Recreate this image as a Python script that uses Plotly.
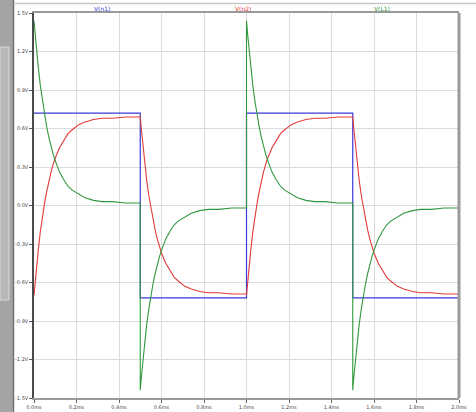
import plotly.graph_objects as go

# ---- data ----
# time offsets (ms) within one half period
t_half = [0, 0.005, 0.01, 0.015, 0.02, 0.03, 0.04, 0.05, 0.06, 0.07, 0.08, 0.09,
          0.10, 0.12, 0.14, 0.16, 0.18, 0.21, 0.24, 0.28, 0.32, 0.37, 0.43, 0.50]
half_starts = [0.0, 0.5, 1.0, 1.5]

# V(n1): square wave (edges at 0.5, 1.0, 1.5 ms)
n1_t = [0.0, 0.5, 0.5, 1.0, 1.0, 1.5, 1.5, 2.0]
n1_v = [0.72, 0.72, -0.72, -0.72, 0.72, 0.72, -0.72, -0.72]

# V(n2): rising and falling halves
n2_rise = [-0.70, -0.60, -0.51, -0.42, -0.35, -0.20, -0.08, 0.02, 0.11, 0.19, 0.26, 0.32,
           0.37, 0.45, 0.51, 0.56, 0.59, 0.63, 0.65, 0.67, 0.68, 0.68, 0.69, 0.69]
n2_fall = [0.69, 0.60, 0.51, 0.42, 0.35, 0.20, 0.08, -0.02, -0.11, -0.19, -0.26, -0.32,
           -0.37, -0.45, -0.51, -0.56, -0.59, -0.63, -0.65, -0.67, -0.68, -0.68, -0.69, -0.69]

# V(L1): rising and falling halves
l1_rise = [1.44, 1.34, 1.25, 1.16, 1.08, 0.93, 0.81, 0.70, 0.61, 0.53, 0.46, 0.40,
           0.35, 0.26, 0.20, 0.15, 0.12, 0.09, 0.06, 0.04, 0.03, 0.03, 0.02, 0.02]
l1_fall = [-1.44, -1.34, -1.25, -1.16, -1.08, -0.93, -0.81, -0.70, -0.61, -0.53, -0.46, -0.40,
           -0.35, -0.26, -0.20, -0.15, -0.12, -0.09, -0.06, -0.04, -0.03, -0.03, -0.02, -0.02]

x_ticks = [0, 0.2, 0.4, 0.6, 0.8, 1.0, 1.2, 1.4, 1.6, 1.8, 2.0]
x_labels = ["0.0ms", "0.2ms", "0.4ms", "0.6ms", "0.8ms", "1.0ms",
            "1.2ms", "1.4ms", "1.6ms", "1.8ms", "2.0ms"]
y_ticks = [1.5, 1.2, 0.9, 0.6, 0.3, 0.0, -0.3, -0.6, -0.9, -1.2, -1.5]
y_labels = ["1.5V", "1.2V", "0.9V", "0.6V", "0.3V", "0.0V",
            "-0.3V", "-0.6V", "-0.9V", "-1.2V", "-1.5V"]

names = ["V(n1)", "V(n2)", "V(L1)"]
colors = ["#3a3ad6", "#e23c38", "#30983c"]

# ---- build series over the two periods ----
n2_t, n2_v, l1_t, l1_v = [], [], [], []
for i, s in enumerate(half_starts):
    r = n2_rise if i % 2 == 0 else n2_fall
    g = l1_rise if i % 2 == 0 else l1_fall
    n2_t += [s + d for d in t_half]
    n2_v += r
    l1_t += [s + d for d in t_half]
    l1_v += g

fig = go.Figure()
fig.add_trace(go.Scatter(x=n1_t, y=n1_v, mode="lines", name=names[0],
                         line=dict(color=colors[0], width=1.2)))
fig.add_trace(go.Scatter(x=n2_t, y=n2_v, mode="lines", name=names[1],
                         line=dict(color=colors[1], width=1.1)))
fig.add_trace(go.Scatter(x=l1_t, y=l1_v, mode="lines", name=names[2],
                         line=dict(color=colors[2], width=1.1)))

W, H = 476, 412
L, R, T, B = 34, 17, 13, 14
pw, ph = W - L - R, H - T - B

def px(x):
    return (x - L) / pw

def py(y):
    return (H - B - y) / ph

shapes = [
    # left gray window strip
    dict(type="rect", xref="paper", yref="paper", x0=px(0), x1=px(13), y0=py(412), y1=py(0),
         fillcolor="#a4a4a4", line=dict(width=0), layer="below"),
    dict(type="rect", xref="paper", yref="paper", x0=px(0), x1=px(9), y0=py(300), y1=py(47),
         fillcolor="#b8b8b8", line=dict(color="#d8d8d8", width=1), layer="below"),
    dict(type="line", xref="paper", yref="paper", x0=px(13.5), x1=px(13.5), y0=py(412), y1=py(0),
         line=dict(color="#707070", width=1.5)),
    # thin top line of the title bar
    dict(type="line", xref="paper", yref="paper", x0=px(15), x1=px(476), y0=py(3.5), y1=py(3.5),
         line=dict(color="#c8c8c8", width=1.5)),
    # right frame
    dict(type="line", xref="paper", yref="paper", x0=1.0, x1=1.0, y0=0, y1=1,
         line=dict(color="#9a9a9a", width=3)),
]

annotations = []
label_x = [102, 243, 382]
for nm, c, lx in zip(names, colors, label_x):
    annotations.append(dict(xref="paper", yref="paper", x=px(lx), y=py(8), text=nm,
                            showarrow=False, font=dict(size=6, color=c, family="DejaVu Sans"),
                            xanchor="center", yanchor="middle"))

fig.update_layout(
    width=W, height=H,
    margin=dict(l=L, r=R, t=T, b=B, pad=0),
    paper_bgcolor="white", plot_bgcolor="white",
    showlegend=False,
    shapes=shapes, annotations=annotations,
    font=dict(family="DejaVu Sans", size=5, color="#444"),
)
fig.update_xaxes(range=[0, 2.0], tickvals=x_ticks, ticktext=x_labels,
                 showgrid=True, gridcolor="#dcdcdc", gridwidth=1,
                 showline=True, linecolor="#9a9a9a", linewidth=2, mirror=True,
                 ticks="outside", ticklen=3, tickcolor="#666", zeroline=False,
                 tickfont=dict(size=5, color="#444"), automargin=False)
fig.update_yaxes(range=[-1.5, 1.5], tickvals=y_ticks, ticktext=y_labels,
                 showgrid=True, gridcolor="#dcdcdc", gridwidth=1,
                 showline=True, linecolor="#4a4a4a", linewidth=1.5,
                 ticks="outside", ticklen=3, tickcolor="#555", zeroline=False,
                 tickfont=dict(size=5, color="#444"), automargin=False)

fig.write_html("out.html")
